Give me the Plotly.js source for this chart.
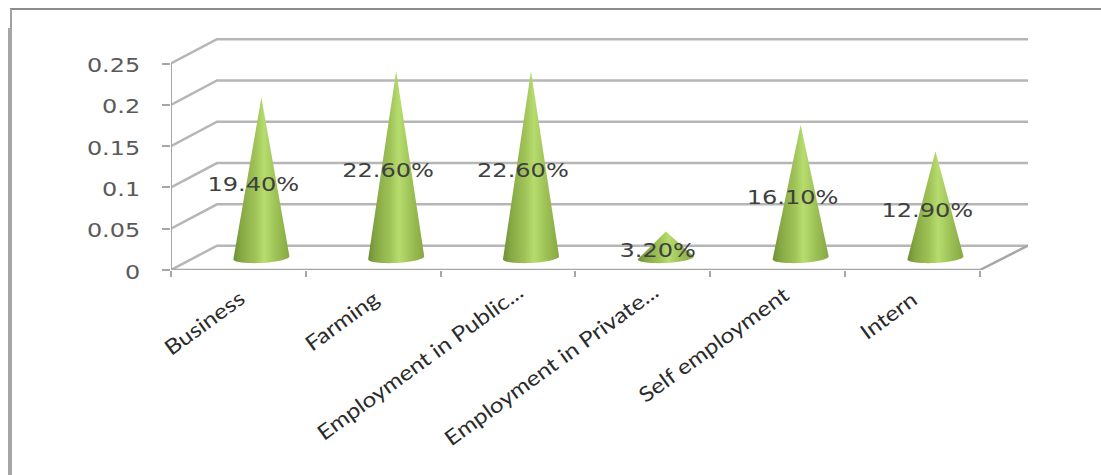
<!DOCTYPE html>
<html>
<head>
<meta charset="utf-8">
<script src="https://cdn.plot.ly/plotly-3.0.1.min.js"></script>
<style>html,body{margin:0;padding:0;background:#fff}#chart{width:1101px;height:475px}</style>
</head>
<body>
<div id="chart"></div>
<script>
// Employment categories and their shares
const categories = ['Business', 'Farming', 'Employment in Public...', 'Employment in Private...', 'Self employment', 'Intern'];
const shares = [0.194, 0.226, 0.226, 0.032, 0.161, 0.129];
const valueTicks = [0, 0.05, 0.1, 0.15, 0.2, 0.25];
const valueTickLabels = ['0', '0.05', '0.1', '0.15', '0.2', '0.25'];

// Oblique projection of the 3D box, in axis units
const depthX = 0.341;
const depthY = 0.0295;
const coneHalfWidth = 0.208;
const coneBaseTilt = 0.0062;
const xMax = categories.length + depthX + 0.016;
const yMax = 0.2809;

const gridColor = '#b6b6b6';
const axisColor = '#a6a6a6';
const traces = [];

// Back wall gridlines with their receding segment on the side wall
valueTicks.forEach(v => traces.push({
  x: [0, depthX, xMax], y: [v, v + depthY, v + depthY],
  mode: 'lines', line: {color: gridColor, width: 2.5}, hoverinfo: 'skip', showlegend: false
}));
// Floor edge and the value axis line
traces.push({
  x: [0, categories.length, categories.length + depthX + 0.016], y: [0, 0, depthY],
  mode: 'lines', line: {color: axisColor, width: 2.5}, hoverinfo: 'skip', showlegend: false
});
traces.push({
  x: [0, 0], y: [0, 0.25],
  mode: 'lines', line: {color: axisColor, width: 2}, hoverinfo: 'skip', showlegend: false
});

// Cones: a triangle closed by the front half of the elliptical base
const coneShade = [[0, '#6e8f35'], [0.14, '#86a844'], [0.4, '#a0c458'], [0.55, '#b7dc6e'], [0.74, '#a0c458'], [1, '#86a742']];
shares.forEach((v, i) => {
  const cx = i + 0.5 + depthX / 2;
  const cy = depthY / 2;
  const xs = [cx], ys = [cy + v];
  for (let k = 0; k <= 24; k++) {
    const a = Math.PI * k / 24;
    xs.push(cx + coneHalfWidth * Math.cos(a));
    ys.push(cy - coneBaseTilt * Math.sin(a) + 0.0018 * Math.cos(a));
  }
  xs.push(cx); ys.push(cy + v);
  traces.push({
    x: xs, y: ys, mode: 'none', fill: 'toself',
    fillgradient: {type: 'horizontal', colorscale: coneShade},
    hoverinfo: 'skip', showlegend: false
  });
});

// Percentage labels at mid height of each cone
traces.push({
  x: shares.map((v, i) => i + 0.5 + depthX / 2 - 0.06),
  y: shares.map(v => depthY / 2 + v / 2 - 0.0095),
  text: shares.map(v => (v * 100).toFixed(2) + '%'),
  mode: 'text', textposition: 'middle center',
  textfont: {family: 'DejaVu Sans', size: 20, color: '#3f3f3f'},
  hoverinfo: 'skip', showlegend: false, cliponaxis: false
});

// Invisible carrier for the category names on a twin axis
traces.push({
  x: categories.map((c, i) => i + 0.5), y: categories.map(() => 0), xaxis: 'x2',
  mode: 'markers', marker: {opacity: 0}, hoverinfo: 'skip', showlegend: false
});

const W = 1101, H = 475;
const m = {l: 171, r: 73, t: 38, b: 205};
const px = x => (x - m.l) / (W - m.l - m.r);
const py = y => (H - m.b - y) / (H - m.t - m.b);

const layout = {
  width: W, height: H, margin: m, showlegend: false,
  paper_bgcolor: '#fff', plot_bgcolor: 'rgba(0,0,0,0)',
  xaxis: {
    range: [0, xMax], tickmode: 'array', tickvals: categories.map((c, i) => i).concat(categories.length),
    ticktext: categories.map(() => '').concat(''), ticks: 'outside', ticklen: 6, tickwidth: 2, tickcolor: axisColor,
    showgrid: false, zeroline: false, showline: false, fixedrange: true
  },
  xaxis2: {
    overlaying: 'x', matches: 'x', range: [0, xMax], anchor: 'y', side: 'bottom',
    tickmode: 'array', tickvals: categories.map((c, i) => i + 0.5), ticktext: categories,
    tickangle: -36, ticks: '', ticklabelstandoff: 13,
    tickfont: {family: 'Lato', size: 21, color: '#2b2b2b'},
    showgrid: false, zeroline: false, showline: false, fixedrange: true
  },
  yaxis: {
    range: [0, yMax], tickmode: 'array', tickvals: valueTicks, ticktext: valueTickLabels,
    ticks: 'outside', ticklen: 8, tickwidth: 2, tickcolor: axisColor, ticklabelstandoff: 18, ticklabelshift: 2,
    tickfont: {family: 'DejaVu Sans', size: 19, color: '#5a5a5a'},
    showgrid: false, zeroline: false, showline: false, fixedrange: true
  },
  shapes: [
    // Outer chart frame
    {type: 'line', xref: 'paper', yref: 'paper', x0: px(10), x1: px(1101), y0: py(9), y1: py(9), line: {color: '#8c8c8c', width: 2}},
    {type: 'line', xref: 'paper', yref: 'paper', x0: px(11), x1: px(11), y0: py(9), y1: py(28), line: {color: '#a0a0a0', width: 2}},
    {type: 'line', xref: 'paper', yref: 'paper', x0: px(10), x1: px(10), y0: py(28), y1: py(475), line: {color: '#a6a6a6', width: 4}}
  ]
};

Plotly.newPlot('chart', traces, layout, {displayModeBar: false, staticPlot: true}).then(gd => {
  // The chart's lettering runs wide: stretch the text along its baseline
  const stretch = (t, length) => {
    t.setAttribute('textLength', length.toFixed(1));
    t.setAttribute('lengthAdjust', 'spacingAndGlyphs');
  };
  gd.querySelectorAll('.textpoint text').forEach(t => stretch(t, t.textContent.length * 15.3));
  gd.querySelectorAll('.ytick text').forEach(t => stretch(t, t.getComputedTextLength() * 1.26));
  // Category names: longer names sit further along their slanted baseline
  gd.querySelectorAll('.x2tick text').forEach(t => {
    const len = t.getComputedTextLength() * 1.16;
    stretch(t, len);
    t.setAttribute('x', parseFloat(t.getAttribute('x')) + 0.07 * (len - 60));
  });
});
</script>
</body>
</html>
